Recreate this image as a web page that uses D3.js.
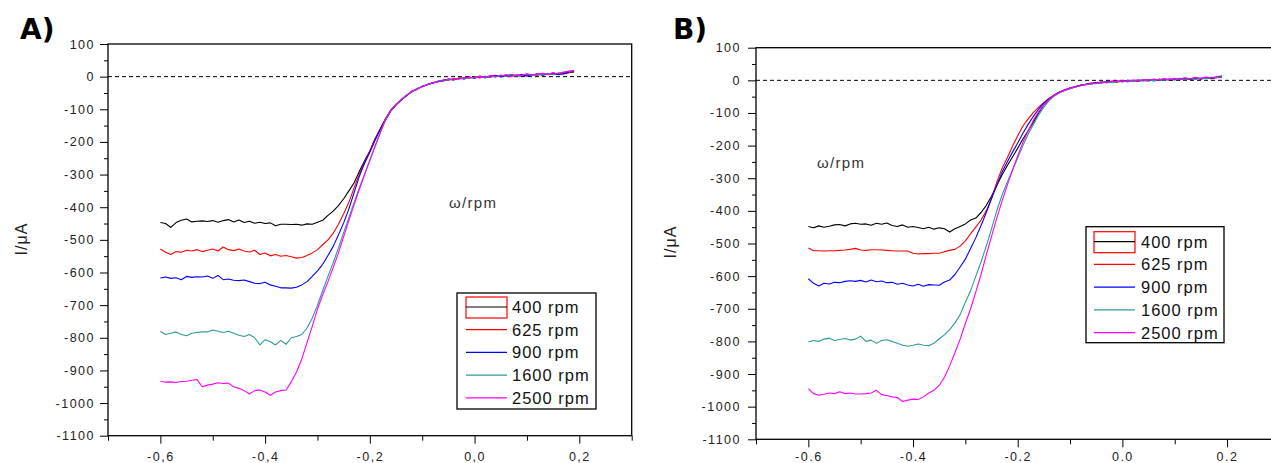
<!DOCTYPE html>
<html>
<head>
<meta charset="utf-8">
<script src="https://cdn.jsdelivr.net/npm/d3@7"></script>
<style>
  body { margin: 0; background: #fff; }
  svg { display: block; font-family: "Liberation Sans", Arial, sans-serif; }
</style>
</head>
<body>
<svg id="chart" width="1271" height="463"></svg>
<script>
// potential (V) grid shared by every sweep
const potential = [-0.60,-0.59,-0.58,-0.57,-0.56,-0.55,-0.54,-0.53,-0.52,-0.51,
  -0.50,-0.49,-0.48,-0.47,-0.46,-0.45,-0.44,-0.43,-0.42,-0.41,
  -0.40,-0.39,-0.38,-0.37,-0.36,-0.35,-0.34,-0.33,-0.32,-0.31,
  -0.30,-0.29,-0.28,-0.27,-0.26,-0.25,-0.24,-0.23,-0.22,-0.21,
  -0.20,-0.19,-0.18,-0.17,-0.16,-0.15,-0.14,-0.13,-0.12,-0.11,
  -0.10,-0.09,-0.08,-0.07,-0.06,-0.05,-0.04,-0.03,-0.02,-0.01,
  0.00,0.01,0.02,0.03,0.04,0.05,0.06,0.07,0.08,0.09,
  0.10,0.11,0.12,0.13,0.14,0.15,0.16,0.17,0.18,0.19];

// panel A currents (uA)
const currentA400 = [-447,-450,-462,-447,-440,-436,-445,-443,-442,-444,
  -441,-446,-441,-438,-445,-439,-447,-443,-449,-446,
  -450,-448,-457,-452,-452,-453,-452,-455,-451,-452,
  -446,-440,-425,-412,-395,-374,-350,-325,-290,-258,
  -228,-190,-160,-128,-102,-85,-72,-58,-46,-38,
  -30,-24,-20,-14,-12,-8,-10,-4,-6,-2,
  -4,0,-3,2,0,4,1,5,3,2,
  6,4,8,5,9,7,10,8,12,14];
const currentA625 = [-528,-538,-545,-536,-538,-532,-534,-530,-536,-532,
  -528,-534,-522,-530,-533,-528,-534,-537,-532,-545,
  -540,-549,-545,-550,-548,-552,-556,-554,-548,-540,
  -530,-515,-500,-480,-452,-420,-385,-340,-298,-262,
  -228,-192,-160,-130,-104,-86,-70,-57,-47,-37,
  -31,-25,-18,-16,-10,-11,-6,-8,-3,-5,
  -1,-4,1,-2,3,0,5,2,6,3,
  7,5,4,8,6,10,7,11,13,16];
const currentA900 = [-617,-614,-618,-616,-622,-612,-615,-613,-614,-611,
  -618,-609,-622,-620,-624,-625,-623,-628,-633,-634,
  -630,-638,-642,-647,-647,-648,-645,-638,-628,-612,
  -595,-575,-548,-520,-485,-448,-405,-355,-305,-265,
  -232,-195,-162,-133,-106,-87,-71,-59,-45,-39,
  -29,-25,-19,-15,-13,-7,-9,-5,-7,-1,
  -5,2,-2,0,4,-1,3,6,2,7,
  1,5,9,4,8,11,6,10,15,17];
const currentA1600 = [-780,-790,-786,-782,-790,-794,-786,-784,-782,-782,
  -776,-780,-784,-780,-786,-792,-796,-790,-800,-822,
  -806,-812,-822,-808,-820,-800,-796,-790,-770,-740,
  -700,-655,-612,-570,-525,-478,-432,-385,-340,-298,
  -258,-215,-172,-132,-104,-84,-70,-56,-47,-36,
  -31,-23,-21,-13,-14,-7,-11,-3,-7,-3,
  -3,1,-4,3,-1,5,0,6,2,4,
  8,3,7,6,10,6,11,14,16,18];
const currentA2500 = [-933,-936,-935,-937,-934,-933,-930,-928,-950,-945,
  -942,-938,-940,-939,-950,-955,-962,-972,-962,-960,
  -966,-976,-966,-962,-960,-935,-905,-865,-815,-765,
  -712,-668,-628,-585,-540,-490,-440,-392,-345,-300,
  -255,-212,-170,-132,-103,-86,-71,-58,-44,-39,
  -30,-24,-19,-15,-11,-9,-8,-5,-4,-3,
  -2,0,-1,3,1,2,6,0,5,4,
  9,5,8,10,7,12,9,13,17,19];

// panel B currents (uA)
const currentB400 = [-448,-452,-446,-450,-447,-443,-442,-446,-440,-438,
  -441,-440,-444,-438,-441,-437,-445,-448,-443,-450,
  -448,-451,-455,-450,-456,-452,-455,-465,-455,-448,
  -440,-428,-422,-405,-383,-355,-322,-290,-262,-235,
  -208,-180,-155,-128,-100,-75,-58,-45,-36,-30,
  -24,-20,-16,-13,-10,-9,-6,-7,-4,-5,
  -3,-4,-1,-3,0,-2,2,0,3,1,
  4,2,5,3,6,4,7,5,9,10];
const currentB625 = [-514,-522,-522,-523,-522,-522,-521,-520,-518,-515,
  -520,-521,-519,-519,-520,-521,-522,-523,-523,-523,
  -530,-532,-531,-531,-530,-530,-525,-521,-518,-508,
  -492,-470,-450,-428,-400,-362,-312,-270,-238,-202,
  -170,-140,-118,-98,-82,-68,-55,-45,-36,-29,
  -23,-19,-14,-12,-8,-7,-5,-6,-2,-4,
  -1,-3,0,-2,1,2,0,3,4,2,
  5,3,6,4,7,5,8,7,10,12];
const currentB900 = [-608,-622,-630,-622,-624,-619,-620,-616,-614,-616,
  -613,-618,-612,-617,-615,-620,-619,-625,-622,-627,
  -630,-625,-631,-626,-627,-628,-618,-612,-595,-572,
  -548,-515,-482,-445,-405,-362,-322,-282,-250,-220,
  -192,-162,-135,-110,-88,-70,-56,-46,-37,-30,
  -25,-19,-16,-12,-11,-7,-8,-4,-6,-2,
  -4,0,-3,1,-1,2,-2,3,1,4,
  2,6,3,5,8,4,7,9,8,11];
const currentB1600 = [-801,-797,-800,-793,-790,-797,-794,-791,-796,-793,
  -784,-800,-796,-806,-797,-795,-800,-806,-812,-815,
  -812,-808,-812,-813,-806,-792,-780,-764,-744,-718,
  -680,-645,-600,-556,-508,-455,-400,-352,-312,-275,
  -238,-200,-165,-135,-106,-82,-62,-48,-38,-31,
  -26,-20,-17,-12,-13,-8,-9,-5,-7,-3,
  -5,-1,-4,0,-2,2,-1,3,0,4,
  1,5,2,6,3,7,5,8,9,11];
const currentB2500 = [-945,-960,-965,-962,-958,-960,-954,-960,-958,-961,
  -961,-960,-958,-950,-963,-966,-970,-972,-984,-980,
  -977,-978,-970,-958,-950,-935,-910,-875,-835,-793,
  -745,-700,-648,-595,-535,-478,-422,-370,-322,-276,
  -232,-190,-155,-122,-96,-75,-58,-46,-37,-30,
  -24,-21,-15,-14,-9,-10,-5,-7,-3,-4,
  -2,-3,1,-1,2,0,4,1,5,3,
  6,4,8,5,9,6,10,8,11,14];

const speeds = ['400 rpm', '625 rpm', '900 rpm', '1600 rpm', '2500 rpm'];
const colors = ['#000000', '#ff0000', '#0000ff', '#2e9a9a', '#ff00ff'];

const yTicks = [100, 0, -100, -200, -300, -400, -500, -600, -700, -800, -900, -1000, -1100];
const yMinor = [50, -50, -150, -250, -350, -450, -550, -650, -750, -850, -950, -1050];
const xTicks = [-0.6, -0.4, -0.2, 0, 0.2];
const xMinor = [-0.7, -0.5, -0.3, -0.1, 0.1, 0.3];

const svg = d3.select('#chart');

const drawPanel = (p) => {
  const x = d3.scaleLinear().domain([-0.7, 0.3]).range([p.left, p.right]);
  const y = d3.scaleLinear().domain([-1100, 100]).range([p.bottom, p.top]);
  const g = svg.append('g');

  // panel letter
  g.append('text')
    .attr('x', p.letterX).attr('y', p.letterY)
    .style('font-family', '"DejaVu Sans", sans-serif')
    .style('font-weight', 'bold')
    .style('font-size', '28px')
    .text(p.letter);

  // zero line
  g.append('line')
    .attr('x1', p.left).attr('x2', p.right)
    .attr('y1', y(0)).attr('y2', y(0))
    .attr('stroke', '#000').attr('stroke-width', 1)
    .attr('stroke-dasharray', '4,3');

  // curves
  const line = d3.line().x((d, i) => x(potential[i])).y(d => y(d));
  p.series.forEach((s, k) => {
    g.append('path')
      .datum(s)
      .attr('fill', 'none')
      .attr('stroke', colors[k])
      .attr('stroke-width', 1.1)
      .attr('stroke-linejoin', 'round')
      .attr('d', line);
  });

  // y axis
  const yAxis = g.append('g')
    .attr('transform', 'translate(' + p.left + ',0)')
    .call(d3.axisLeft(y).tickValues(yTicks).tickSize(8).tickSizeOuter(0)
      .tickPadding(p.yPad).tickFormat(d => String(d)));
  g.append('g')
    .attr('transform', 'translate(' + p.left + ',0)')
    .call(d3.axisLeft(y).tickValues(yMinor).tickSize(4).tickSizeOuter(0).tickFormat(''))
    .select('.domain').remove();

  // x axis
  const xAxis = g.append('g')
    .attr('transform', 'translate(0,' + p.bottom + ')')
    .call(d3.axisBottom(x).tickValues(xTicks).tickSize(8).tickSizeOuter(0)
      .tickFormat(d => d.toFixed(1).replace('.', p.sep)));
  g.append('g')
    .attr('transform', 'translate(0,' + p.bottom + ')')
    .call(d3.axisBottom(x).tickValues(xMinor).tickSize(5).tickSizeOuter(0).tickFormat(''))
    .select('.domain').remove();

  [yAxis, xAxis].forEach(a => {
    a.select('.domain').remove();
    a.selectAll('text')
      .attr('font-family', null)
      .attr('font-size', null)
      .style('font-size', '12.5px')
      .style('letter-spacing', '1.5px')
      .attr('fill', '#222');
  });
  xAxis.selectAll('text').attr('dy', null).attr('y', p.xLabelY);

  // frame
  g.append('rect')
    .attr('x', p.left).attr('y', p.top)
    .attr('width', p.right - p.left).attr('height', p.bottom - p.top)
    .attr('fill', 'none').attr('stroke', '#000').attr('stroke-width', 1.3);

  // y title
  g.append('text')
    .attr('transform', 'translate(' + p.yTitleX + ',' + p.yTitleY + ') rotate(-90)')
    .attr('text-anchor', 'middle')
    .style('font-size', '16px')
    .style('letter-spacing', '1px')
    .attr('fill', '#222')
    .text('I/\u03bcA');

  // omega note
  g.append('text')
    .attr('x', p.omegaX).attr('y', p.omegaY)
    .style('font-size', '15px')
    .style('letter-spacing', '1.3px')
    .attr('fill', '#333')
    .text('\u03c9/rpm');

  // legend
  const L = p.legend;
  const lg = g.append('g');
  lg.append('rect')
    .attr('x', L.x).attr('y', L.y).attr('width', L.w).attr('height', L.h)
    .attr('fill', '#fff').attr('stroke', '#000').attr('stroke-width', 1.3);
  speeds.forEach((name, k) => {
    const ry = L.row0 + k * L.rowH;
    if (k === 0) {
      lg.append('rect')
        .attr('x', L.s0).attr('y', ry - 10).attr('width', L.s1 - L.s0).attr('height', 21)
        .attr('fill', 'none').attr('stroke', '#ff0000').attr('stroke-width', 1.2);
    }
    lg.append('line')
      .attr('x1', L.s0).attr('x2', L.s1).attr('y1', ry).attr('y2', ry)
      .attr('stroke', colors[k]).attr('stroke-width', 1.2);
    lg.append('text')
      .attr('x', L.tx).attr('y', ry + 6)
      .style('font-size', '16.5px')
      .style('letter-spacing', '1px')
      .attr('fill', '#111')
      .text(name);
  });
};

drawPanel({
  left: 108, right: 631.7, top: 44, bottom: 435.7,
  letter: 'A)', letterX: 20, letterY: 39, sep: ',', yPad: 5, xLabelY: 25,
  yTitleX: 27, yTitleY: 239, omegaX: 449, omegaY: 208,
  legend: { x: 457, y: 293, w: 139, h: 116, row0: 307, rowH: 22.7, s0: 466, s1: 507, tx: 512 },
  series: [currentA400, currentA625, currentA900, currentA1600, currentA2500]
});

drawPanel({
  left: 756, right: 1279.4, top: 47.7, bottom: 439.3,
  letter: 'B)', letterX: 673, letterY: 39, sep: '.', yPad: 7, xLabelY: 21.5,
  yTitleX: 676, yTitleY: 242, omegaX: 817, omegaY: 168,
  legend: { x: 1086, y: 226.7, w: 138, h: 116, row0: 241.7, rowH: 22.75, s0: 1094, s1: 1135, tx: 1141 },
  series: [currentB400, currentB625, currentB900, currentB1600, currentB2500]
});
</script>
</body>
</html>
